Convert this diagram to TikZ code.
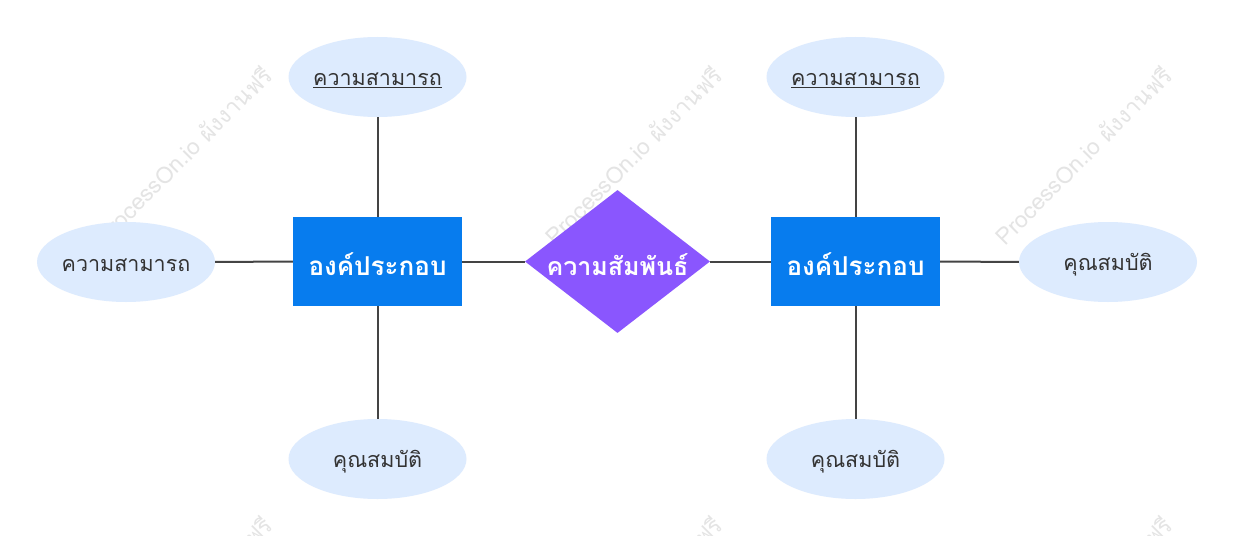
\documentclass[tikz,border=0pt]{standalone}
\usepackage{fontspec}
\newfontfamily\thaifont[Script=Thai]{Loma}
\newfontfamily\wmfont[Script=Thai]{Loma}
\usetikzlibrary{shapes.geometric}
\definecolor{entblue}{HTML}{077CEE}
\definecolor{relpurple}{HTML}{8A56FE}
\definecolor{attrfill}{HTML}{DDEBFE}
\definecolor{linegray}{HTML}{444444}
\definecolor{txtdark}{HTML}{333333}
\definecolor{wmgray}{HTML}{E4E4E4}
\newcommand{\dn}[1]{\raisebox{-3pt}[\height][\depth]{#1}}
\tikzset{
  entity/.style={rectangle, fill=entblue, minimum width=169pt, minimum height=89pt, inner sep=0pt,
    text=white, font=\thaifont\fontsize{26}{30}\selectfont\bfseries},
  relation/.style={diamond, fill=relpurple, minimum width=185pt, minimum height=143pt, inner sep=0pt, aspect=1.3,
    text=white, font=\thaifont\fontsize{25}{29}\selectfont\bfseries},
  attr/.style={ellipse, fill=attrfill, minimum width=178pt, minimum height=80pt, inner sep=-20pt,
    text=txtdark, font=\thaifont\fontsize{21.5}{25}\selectfont},
  conn/.style={draw=linegray, line width=2pt},
  wm/.style={text=wmgray, rotate=45, font=\wmfont\fontsize{23}{27}\selectfont, anchor=center}
}
\begin{document}
\begin{tikzpicture}[x=1pt,y=-1pt]
\fill[white] (0,0) rectangle (1233,535);
\useasboundingbox (0,0) rectangle (1233,535);
\begin{scope}
\clip (0,0) rectangle (1233,535);
\foreach \cx in {183,633,1083}{
  \foreach \cy in {155,605}{
    \node[wm] at (\cx,\cy) {ProcessOn.io ผังงานฟรี};
  }
}
\end{scope}
% nodes
\node[entity] (e1) at (377.5,261.5) {\dn{องค์ประกอบ}};
\node[entity] (e2) at (855.5,261.5) {\dn{องค์ประกอบ}};
\node[relation] (r) at (617.5,261.5) {\dn{ความสัมพันธ์}};
\node[attr] (a1) at (377.5,77) {\dn{\underline{ความสามารถ}}};
\node[attr] (a2) at (126,262) {\dn{ความสามารถ}};
\node[attr] (a3) at (377.5,459) {\dn{คุณสมบัติ}};
\node[attr] (a4) at (855.5,77) {\dn{\underline{ความสามารถ}}};
\node[attr] (a5) at (1108,262) {\dn{คุณสมบัติ}};
\node[attr] (a6) at (855.5,459) {\dn{คุณสมบัติ}};
% connectors
\draw[conn] (a1) -- (e1);
\draw[conn] (a2) -- (e1);
\draw[conn] (a3) -- (e1);
\draw[conn] (e1) -- (r);
\draw[conn] (r) -- (e2);
\draw[conn] (a4) -- (e2);
\draw[conn] (a5) -- (e2);
\draw[conn] (a6) -- (e2);
\end{tikzpicture}
\end{document}
